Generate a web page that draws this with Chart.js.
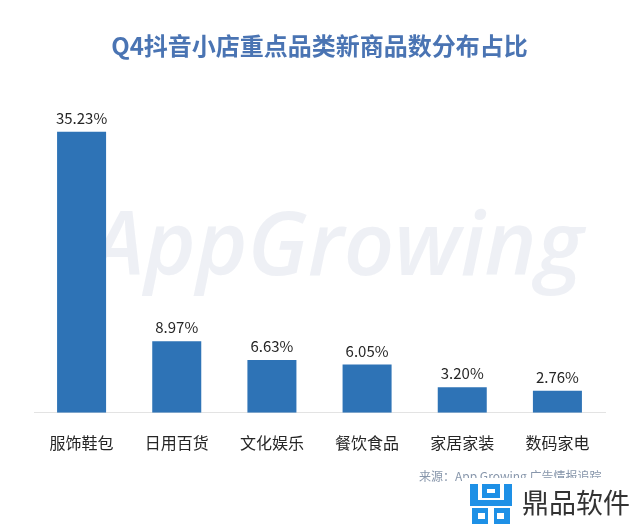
<!DOCTYPE html>
<html><head><meta charset="utf-8">
<script src="https://cdn.jsdelivr.net/npm/chart.js@4"></script>
<style>html,body{margin:0;padding:0;background:#fff}#wrap{width:640px;height:530px}</style>
</head><body><div id="wrap"><canvas id="c" width="640" height="530"></canvas></div>
<script>
const categories = ['服饰鞋包','日用百货','文化娱乐','餐饮食品','家居家装','数码家电'];
const shares = [35.23, 8.97, 6.63, 6.05, 3.20, 2.76];
const valueLabels = ['35.23%','8.97%','6.63%','6.05%','3.20%','2.76%'];
const titleText = 'Q4抖音小店重点品类新商品数分布占比';
const sourceText = '来源：App Growing 广告情报追踪';
const CJK = '"Noto Sans CJK SC", "Noto Sans", sans-serif';

const decor = {
  id: 'decor',
  beforeDatasetsDraw(chart) {
    const ctx = chart.ctx;
    ctx.save();
    ctx.fillStyle = 'rgba(232,235,242,0.75)';
    ctx.font = 'italic 600 88px "Open Sans", sans-serif';
    ctx.textBaseline = 'middle';
    ctx.textAlign = 'left';
    ctx.fillText('AppGrowing', 92, 250);
    ctx.restore();
  },
  afterDatasetsDraw(chart) {
    const ctx = chart.ctx;
    const meta = chart.getDatasetMeta(0);
    ctx.save();
    ctx.fillStyle = '#262626';
    ctx.font = '15px ' + CJK;
    ctx.textAlign = 'center';
    ctx.textBaseline = 'bottom';
    meta.data.forEach((bar, i) => {
      ctx.fillText(valueLabels[i], bar.x, bar.y - 6);
    });
    ctx.restore();
  },
  afterDraw(chart) {
    const ctx = chart.ctx;
    ctx.save();
    ctx.fillStyle = '#8796ab';
    ctx.font = '12px ' + CJK;
    ctx.textAlign = 'left';
    ctx.textBaseline = 'middle';
    ctx.fillText(sourceText, 419, 476);
    // logo overlay
    ctx.fillStyle = '#ffffff';
    ctx.fillRect(462, 478, 178, 52);
    ctx.fillStyle = '#1e90e6';
    ctx.fillRect(470, 484, 8, 22);
    ctx.fillRect(470, 500, 42, 6);
    ctx.fillRect(504, 484, 8, 22);
    ctx.fillRect(482, 484, 18, 5);
    ctx.fillRect(482, 484, 5, 14);
    ctx.fillRect(495, 484, 5, 14);
    ctx.fillRect(482, 493, 18, 5);
    ctx.fillRect(472, 508, 38, 16);
    ctx.fillStyle = '#ffffff';
    ctx.fillRect(478, 513, 7, 6);
    ctx.fillRect(497, 513, 7, 6);
    ctx.fillRect(488, 508, 6, 16);
    ctx.fillStyle = '#333333';
    ctx.font = '27px ' + CJK;
    ctx.textBaseline = 'middle';
    ctx.fillText('鼎品软件', 522, 503);
    ctx.restore();
  }
};

new Chart(document.getElementById('c'), {
  type: 'bar',
  data: {
    labels: categories,
    datasets: [{
      data: shares,
      backgroundColor: '#2e73b6',
      borderWidth: 0,
      barPercentage: 1,
      categoryPercentage: 0.515
    }]
  },
  options: {
    responsive: false,
    animation: false,
    layout: { padding: { left: 34, right: 35, top: 0, bottom: 64 } },
    plugins: {
      legend: { display: false },
      tooltip: { enabled: false },
      title: {
        display: true,
        text: titleText,
        color: '#4a74b3',
        font: { family: CJK, size: 24, weight: 'bold' },
        padding: { top: 31, bottom: 18 }
      }
    },
    scales: {
      x: {
        grid: { display: false },
        border: { display: true, color: '#e3e3e3', width: 1 },
        ticks: { color: '#262626', font: { family: CJK, size: 16 }, padding: 13, maxRotation: 0 }
      },
      y: {
        display: false,
        min: 0,
        max: 42
      }
    }
  },
  plugins: [decor]
});
</script>
</body></html>
